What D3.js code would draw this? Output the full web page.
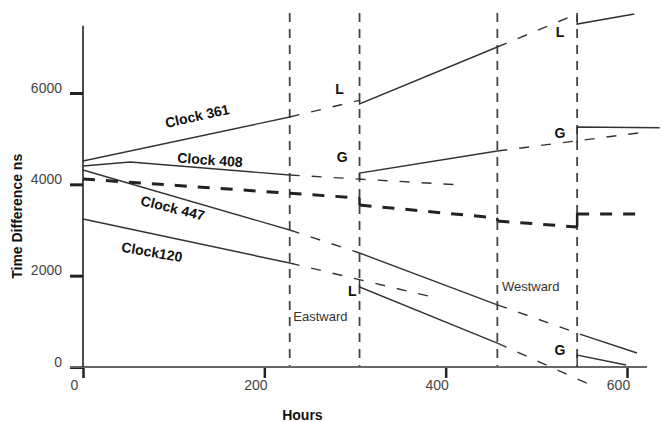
<!DOCTYPE html>
<html lang="en">
<head>
  <meta charset="UTF-8" />
  <title>Clock Time Differences</title>
  <style>
    body { margin: 0; background: #fff; }
    svg { font-family: Arial, "Liberation Sans", sans-serif; }
    .solid { fill: none; stroke: #333; stroke-width: 1.4px; }
    .pred { fill: none; stroke: #333; stroke-width: 1.4px; stroke-dasharray: 10 12; }
    .mean { fill: none; stroke: #222; stroke-width: 3px; stroke-dasharray: 12 11; }
    .step { fill: none; stroke: #222; stroke-width: 2.5px; }
    .flight { stroke: #444; stroke-width: 1.8px; stroke-dasharray: 9 7; }
    .tick text { font-size: 14px; fill: #444; }
    .tick line { stroke: #222; }
    .clock-label { font-size: 14px; font-weight: bold; fill: #111; }
    .lg { font-size: 14px; font-weight: bold; fill: #111; }
    .dir { font-size: 13px; fill: #333; }
  </style>
  <script src="https://d3js.org/d3.v7.min.js"></script>
</head>
<body>
  <div id="chart"></div>
  <script type="text/javascript">
    // axis ticks
    const hourTicks = [0, 200, 400, 600];
    const nsTicks = [0, 2000, 4000, 6000];

    // hours at which the flights start / end
    const flightHours = [228, 305, 457, 545];
    const flightNames = ["Eastward", "Westward"];
    const flightLabelAt = [[232, 1007], [462, 1664]];

    // [hours, ns] points, measured segments (a leading vertical point is the jump)
    const clock361Solid = [[[0, 4511], [228, 5474]], [[305, 5840], [305, 5760], [457, 7007]], [[545, 7700], [545, 7510], [608, 7729]]];
    const clock361Dashed = [[[228, 5474], [305, 5840]], [[457, 7007], [540, 7690]]];

    const clock408Solid = [[[0, 4401], [52, 4489], [228, 4204]], [[305, 4115], [305, 4248], [457, 4730]], [[545, 4927], [545, 5255], [636, 5240]]];
    const clock408Dashed = [[[228, 4204], [417, 3985]], [[457, 4730], [621, 5146]]];

    const clock447Solid = [[[0, 4314], [228, 3000]], [[305, 2496], [457, 1360]], [[548, 720], [611, 307]]];
    const clock447Dashed = [[[228, 3000], [305, 2496]], [[457, 1360], [545, 745]]];

    const clock120Solid = [[[0, 3241], [228, 2277]], [[305, 1913], [305, 1752], [457, 525]], [[545, 0], [545, 263], [599, 44]]];
    const clock120Dashed = [[[228, 2277], [390, 1511]], [[457, 525], [560, -394]]];

    // heavy dashed line and its steps
    const meanDashed = [[[0, 4116], [305, 3700]], [[305, 3547], [457, 3262]], [[457, 3197], [545, 3066]], [[545, 3350], [612, 3350]]];
    const meanSteps = [[[305, 3700], [305, 3547]], [[457, 3262], [457, 3197]], [[545, 3066], [545, 3372]]];

    // labels: text, [hours, ns], rotation
    const clockNames = ["Clock 361", "Clock 408", "Clock 447", "Clock120"];
    const clockLabelAt = [[126, 5496], [140, 4533], [99, 3481], [76, 2518]];
    const clockLabelAngle = [-12.5, 4, 14, 10];

    const lgNames = ["L", "L", "G", "G", "L", "G"];
    const lgAt = [[283, 6087], [526, 7335], [286, 4598], [526, 5124], [297, 1664], [526, 372]];

    const W = 662, H = 422;
    const svg = d3.select("#chart").append("svg")
      .attr("width", W)
      .attr("height", H);

    const x = d3.scaleLinear().domain([0, 600]).range([83, 627]);
    const y = d3.scaleLinear().domain([0, 6000]).range([367, 93]);

    const line = d3.line().x(d => x(d[0])).y(d => y(d[1]));

    // flight boundaries
    svg.selectAll(".flight")
      .data(flightHours)
      .enter().append("line")
      .attr("class", "flight")
      .attr("x1", d => x(d)).attr("x2", d => x(d))
      .attr("y1", y(7750)).attr("y2", y(0));

    // axes
    const yAxis = svg.append("g")
      .attr("transform", `translate(${x(0)},0)`)
      .call(d3.axisLeft(y).tickValues(nsTicks).tickFormat(d3.format("d")).tickSize(13).tickPadding(8));
    yAxis.select(".domain").remove();
    yAxis.selectAll(".tick line").attr("stroke-width", 3);
    yAxis.selectAll(".tick text").attr("dy", "-0.05em");

    const xAxis = svg.append("g")
      .attr("transform", `translate(0,${y(0)})`)
      .call(d3.axisBottom(x).tickValues(hourTicks).tickFormat(d3.format("d")).tickSize(11).tickPadding(2));
    xAxis.select(".domain").remove();
    xAxis.selectAll(".tick line").attr("stroke-width", 2.5);
    xAxis.selectAll(".tick text").attr("dx", -9);

    svg.append("line")
      .attr("x1", x(0) - 13).attr("x2", x(622))
      .attr("y1", y(0)).attr("y2", y(0))
      .attr("stroke", "#666").attr("stroke-width", 2.2);
    svg.append("line")
      .attr("x1", x(0)).attr("x2", x(0))
      .attr("y1", y(7470)).attr("y2", y(0))
      .attr("stroke", "#222").attr("stroke-width", 1.6);

    svg.append("text")
      .attr("transform", `translate(22,${y(3300)}) rotate(-90)`)
      .attr("text-anchor", "middle")
      .style("font-size", "14px").style("font-weight", "bold").style("fill", "#111")
      .text("Time Difference ns");

    svg.append("text")
      .attr("x", x(242)).attr("y", 420)
      .attr("text-anchor", "middle")
      .style("font-size", "14px").style("font-weight", "bold").style("fill", "#111")
      .text("Hours");

    // series
    const solids = [clock361Solid, clock408Solid, clock447Solid, clock120Solid].flat();
    const dashes = [clock361Dashed, clock408Dashed, clock447Dashed, clock120Dashed].flat();

    svg.selectAll(".pred")
      .data(dashes)
      .enter().append("path")
      .attr("class", "pred")
      .attr("d", line);

    svg.selectAll(".solid")
      .data(solids)
      .enter().append("path")
      .attr("class", "solid")
      .attr("d", line);

    svg.selectAll(".mean")
      .data(meanDashed)
      .enter().append("path")
      .attr("class", "mean")
      .attr("d", line);

    svg.selectAll(".step")
      .data(meanSteps)
      .enter().append("path")
      .attr("class", "step")
      .attr("d", line);

    // labels
    svg.selectAll(".clock-label")
      .data(clockNames)
      .enter().append("text")
      .attr("class", "clock-label")
      .attr("text-anchor", "middle")
      .attr("dy", "0.35em")
      .attr("transform", (d, i) => `translate(${x(clockLabelAt[i][0])},${y(clockLabelAt[i][1])}) rotate(${clockLabelAngle[i]})`)
      .text(d => d);

    svg.selectAll(".lg")
      .data(lgNames)
      .enter().append("text")
      .attr("class", "lg")
      .attr("text-anchor", "middle")
      .attr("dy", "0.35em")
      .attr("x", (d, i) => x(lgAt[i][0]))
      .attr("y", (d, i) => y(lgAt[i][1]))
      .text(d => d);

    svg.selectAll(".dir")
      .data(flightNames)
      .enter().append("text")
      .attr("class", "dir")
      .attr("x", (d, i) => x(flightLabelAt[i][0]))
      .attr("y", (d, i) => y(flightLabelAt[i][1]))
      .text(d => d);
  </script>
</body>
</html>
